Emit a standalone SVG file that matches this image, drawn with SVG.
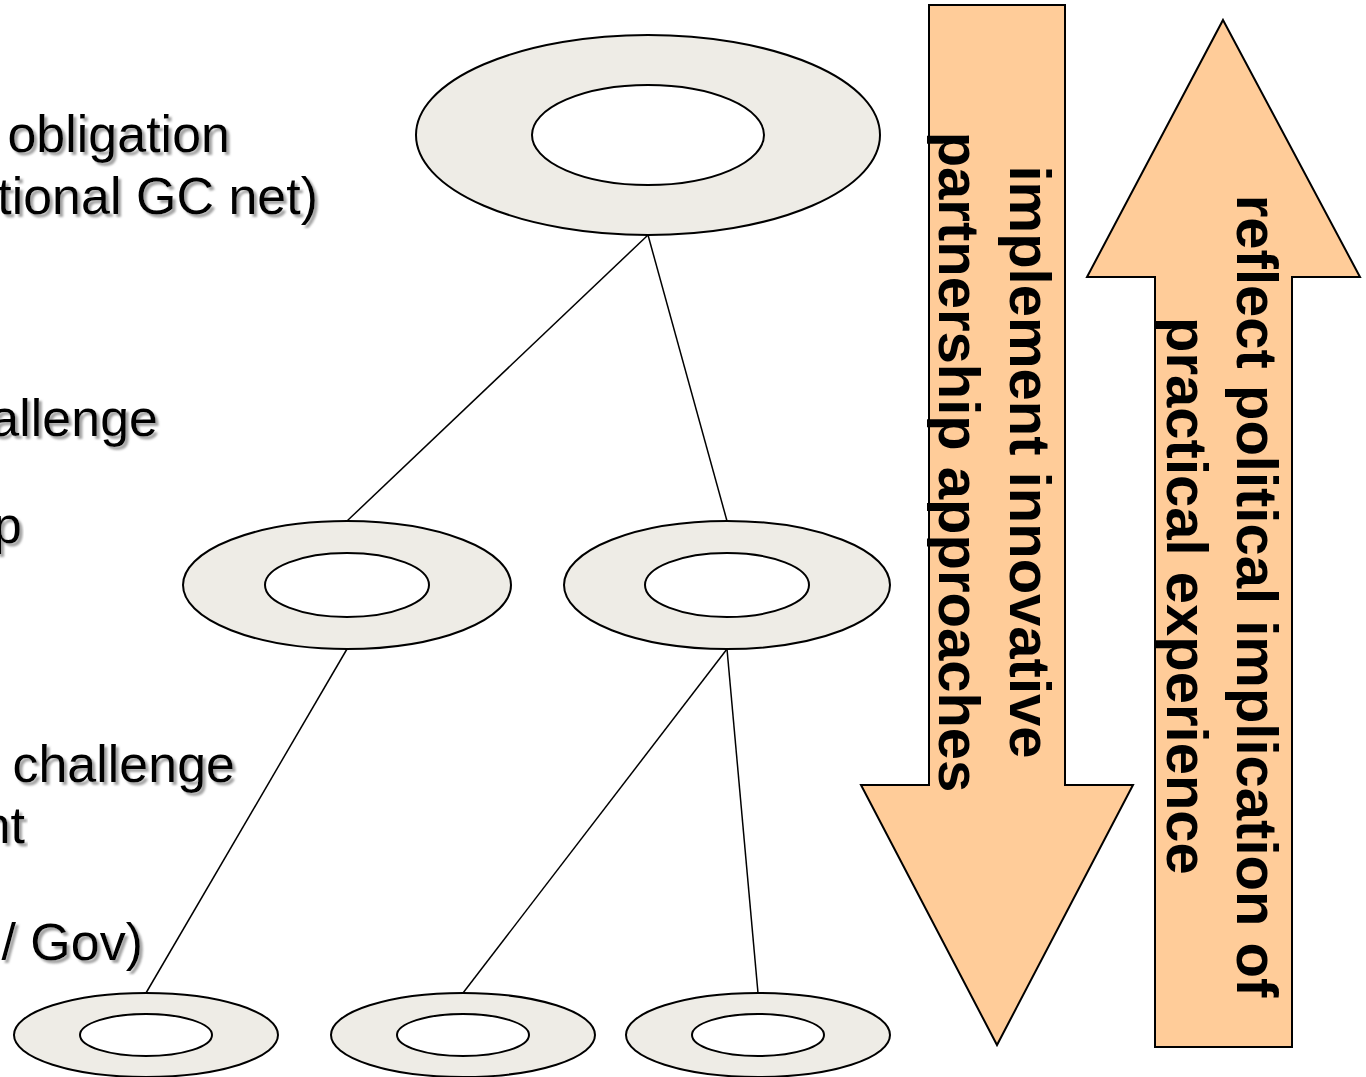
<svg xmlns="http://www.w3.org/2000/svg" width="1366" height="1077" viewBox="0 0 1366 1077">
<defs>
<filter id="sh" x="-5%" y="-10%" width="110%" height="130%">
<feDropShadow dx="3" dy="3" stdDeviation="1" flood-color="#9a9a9a" flood-opacity="0.9"/>
</filter>
</defs>
<style>
.ring{fill:#EEECE6;stroke:#000;stroke-width:2}
.hole{fill:#fff;stroke:#000;stroke-width:2}
.edge{stroke:#000;stroke-width:1.5;fill:none}
.arrow{fill:#FFCC99;stroke:#000;stroke-width:2}
.lt{font-family:"Liberation Sans",Arial,Helvetica,sans-serif;font-size:52px;fill:#000;filter:url(#sh)}
.at{font-family:"Liberation Sans",Arial,Helvetica,sans-serif;font-size:58px;font-weight:bold;fill:#000;text-anchor:middle}
</style>
<rect width="1366" height="1077" fill="#fff"/>

<g id="left-text">
<text class="lt" x="230" y="152" text-anchor="end">obligation</text>
<text class="lt" x="318" y="214" text-anchor="end">tional GC net)</text>
<text class="lt" x="158" y="436" text-anchor="end">allenge</text>
<text class="lt" x="22" y="543" text-anchor="end">p</text>
<text class="lt" x="235" y="782" text-anchor="end">challenge</text>
<text class="lt" x="25" y="843" text-anchor="end">nt</text>
<text class="lt" x="143" y="960" text-anchor="end">/ Gov)</text>
</g>

<g id="connectors">
<line class="edge" x1="648" y1="235" x2="347" y2="521"/>
<line class="edge" x1="648" y1="235" x2="727" y2="521"/>
<line class="edge" x1="347" y1="649" x2="146" y2="993"/>
<line class="edge" x1="727" y1="649" x2="463" y2="993"/>
<line class="edge" x1="727" y1="649" x2="758" y2="993"/>
</g>

<g id="node-top">
<ellipse class="ring" cx="648" cy="135" rx="232" ry="100"/>
<ellipse class="hole" cx="648" cy="135" rx="116" ry="50"/>
</g>
<g id="node-mid-left">
<ellipse class="ring" cx="347" cy="585" rx="164" ry="64"/>
<ellipse class="hole" cx="347" cy="585" rx="82" ry="32"/>
</g>
<g id="node-mid-right">
<ellipse class="ring" cx="727" cy="585" rx="163" ry="64"/>
<ellipse class="hole" cx="727" cy="585" rx="82" ry="32"/>
</g>
<g id="node-bot-1">
<ellipse class="ring" cx="146" cy="1035" rx="132" ry="42"/>
<ellipse class="hole" cx="146" cy="1035" rx="66" ry="21"/>
</g>
<g id="node-bot-2">
<ellipse class="ring" cx="463" cy="1035" rx="132" ry="42"/>
<ellipse class="hole" cx="463" cy="1035" rx="66" ry="21"/>
</g>
<g id="node-bot-3">
<ellipse class="ring" cx="758" cy="1035" rx="132" ry="42"/>
<ellipse class="hole" cx="758" cy="1035" rx="66" ry="21"/>
</g>

<g id="arrow-down">
<polygon class="arrow" points="929,5 1065,5 1065,785 1133,785 997,1045 861,785 929,785"/>
<g transform="translate(997,462) rotate(90)">
<text class="at" x="0" y="-13">implement innovative</text>
<text class="at" x="0" y="58">partnership approaches</text>
</g>
</g>

<g id="arrow-up">
<polygon class="arrow" points="1223,20 1360,277 1292,277 1292,1047 1155,1047 1155,277 1087,277"/>
<g transform="translate(1223,596) rotate(90)">
<text class="at" x="0" y="-14">reflect political implication of</text>
<text class="at" x="0" y="56">practical experience</text>
</g>
</g>
</svg>
